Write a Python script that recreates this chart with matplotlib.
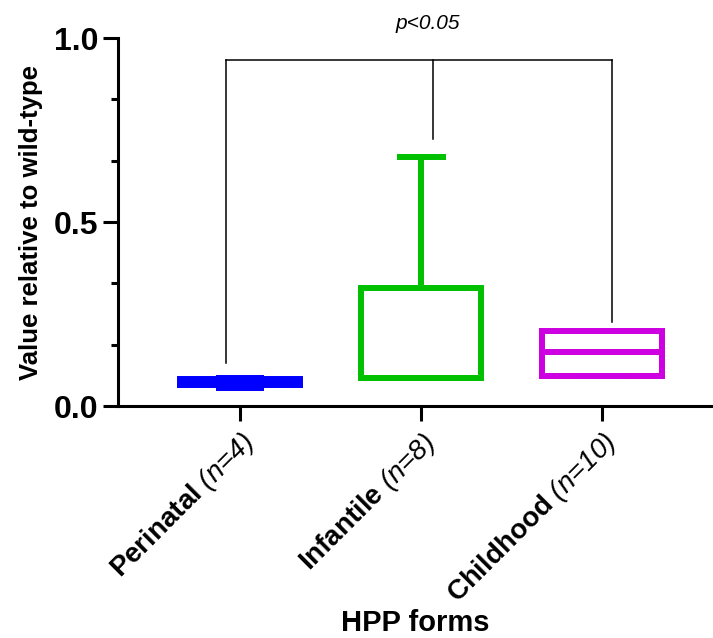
import matplotlib
matplotlib.use("Agg")
import matplotlib.pyplot as plt
from matplotlib.ticker import MultipleLocator, FormatStrFormatter

plt.rcParams["font.family"] = ["Liberation Sans", "DejaVu Sans"]
plt.rcParams["mathtext.fontset"] = "custom"
plt.rcParams["mathtext.rm"] = "Liberation Sans"
plt.rcParams["mathtext.it"] = "Liberation Sans:italic"
plt.rcParams["mathtext.bf"] = "Liberation Sans:bold"

# data (values relative to wild-type)
groups = ["Perinatal", "Infantile", "Childhood"]
n_counts = [4, 8, 10]
whislo = [0.049, 0.077, 0.082]
q1 = [0.057, 0.077, 0.082]
med = [0.065, 0.077, 0.146]
q3 = [0.073, 0.322, 0.205]
whishi = [0.076, 0.677, 0.205]
colors = ["#0000FF", "#00C000", "#CC00E0"]

# significance bracket
bracket_x = [-0.08, 1.065, 2.055]
bracket_drop = [0.117, 0.725, 0.228]
bracket_y = 0.94
p_text = "p<0.05"

fig = plt.figure(figsize=(7.13, 6.38), dpi=100)
ax = fig.add_axes([0.1655, 0.3636, 0.834, 0.5768])

stats = []
for i, g in enumerate(groups):
    stats.append(dict(label=g, whislo=whislo[i], q1=q1[i], med=med[i],
                      q3=q3[i], whishi=whishi[i], fliers=[]))

bp = ax.bxp(stats, positions=range(len(groups)), widths=0.66,
            capwidths=0.27, showfliers=False, patch_artist=True)
for i, c in enumerate(colors):
    bp["boxes"][i].set(facecolor="none", edgecolor=c, linewidth=4.3)
    bp["medians"][i].set(color=c, linewidth=4.3, solid_capstyle="butt")
    for art in bp["whiskers"][2 * i:2 * i + 2] + bp["caps"][2 * i:2 * i + 2]:
        art.set(color=c, linewidth=4.3, solid_capstyle="butt")

# bracket
lw = 1.1
ax.plot([bracket_x[0], bracket_x[2]], [bracket_y, bracket_y], color="black",
        lw=lw, clip_on=False)
for bx, by in zip(bracket_x, bracket_drop):
    ax.plot([bx, bx], [by, bracket_y], color="black", lw=lw, clip_on=False)
ax.text(bracket_x[1] - 0.03, 1.04, p_text, ha="center", va="center",
        fontsize=15, style="italic")

ax.set_xlim(-0.674, 2.61)
ax.set_ylim(0, 1.0)
ax.yaxis.set_major_locator(MultipleLocator(0.5))
ax.yaxis.set_minor_locator(MultipleLocator(0.5 / 3))
ax.yaxis.set_major_formatter(FormatStrFormatter("%.1f"))

for s in ["top", "right"]:
    ax.spines[s].set_visible(False)
for s in ["left", "bottom"]:
    ax.spines[s].set_linewidth(2.2)

ax.tick_params(axis="both", which="major", width=2.2, length=11, pad=3)
ax.tick_params(axis="x", which="major", pad=5)
ax.tick_params(axis="y", which="minor", width=2.2, length=5)
ax.tick_params(axis="y", labelsize=23)
for lab in ax.get_yticklabels():
    lab.set_fontweight("bold")

xlabels = [r"$\mathbf{%s}$ (n=%d)" % (g, n) for g, n in zip(groups, n_counts)]
ax.set_xticks(range(len(groups)))
ax.set_xticklabels(xlabels, rotation=45, ha="right", rotation_mode="anchor",
                   fontsize=20, style="italic")

ax.set_ylabel("Value relative to wild-type", fontsize=18.5, fontweight="bold",
              labelpad=8)
ax.set_xlabel("HPP forms", fontsize=21, fontweight="bold", labelpad=0)

fig.savefig("out.png", dpi=100)
